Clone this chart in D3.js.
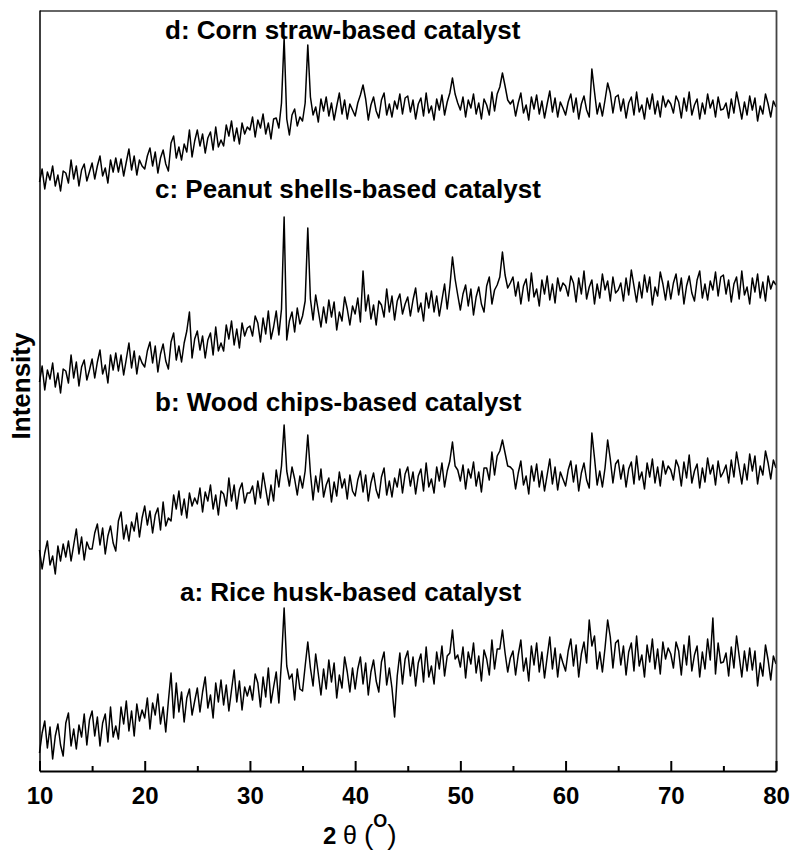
<!DOCTYPE html>
<html>
<head>
<meta charset="utf-8">
<script src="https://cdn.jsdelivr.net/npm/d3@7"></script>
<style>
  body { margin: 0; background: #fff; }
  text { font-family: "Liberation Sans", Arial, sans-serif; }
</style>
</head>
<body>
<svg id="xrd"></svg>
<script>
// XRD patterns of the four biomass-based catalysts (stacked, intensity in a.u.)
// scan 10-80 deg, 0.25 deg step
const twoTheta = d3.range(10, 80.001, 0.25);

const riceHusk = [
  18, 38, 50, 23, 44, 12, 35, 47, 26, 15, 48, 58, 25, 42, 22, 46, 34, 57, 26, 51,
  60, 35, 54, 25, 48, 57, 29, 64, 34, 45, 32, 64, 47, 70, 40, 60, 35, 67, 50, 61,
  53, 73, 42, 68, 56, 77, 47, 64, 39, 70, 98, 53, 88, 59, 79, 49, 73, 82, 56, 70,
  83, 59, 79, 94, 63, 76, 53, 88, 69, 91, 66, 86, 60, 81, 101, 69, 90, 61, 84, 75,
  85, 71, 97, 88, 64, 94, 74, 103, 68, 84, 99, 68, 110, 163, 105, 92, 97, 71, 102, 82,
  80, 105, 129, 103, 85, 117, 97, 76, 102, 82, 111, 89, 108, 73, 96, 83, 114, 99, 79, 103,
  82, 102, 114, 87, 108, 76, 99, 111, 90, 79, 109, 119, 86, 103, 83, 54, 95, 118, 87, 112,
  120, 95, 114, 85, 108, 117, 89, 124, 94, 105, 87, 119, 102, 125, 95, 115, 118, 141, 112, 116,
  104, 124, 93, 119, 107, 128, 98, 115, 90, 121, 112, 96, 131, 102, 122, 122, 141, 118, 99, 113,
  120, 96, 116, 131, 100, 113, 90, 125, 106, 128, 99, 119, 93, 114, 134, 102, 123, 94, 117, 108,
  100, 120, 132, 105, 126, 94, 117, 129, 108, 151, 125, 135, 102, 119, 99, 123, 151, 134, 103, 128,
  131, 106, 125, 96, 119, 128, 100, 135, 105, 116, 94, 126, 109, 132, 102, 122, 97, 129, 112, 123,
  117, 103, 129, 120, 96, 126, 106, 135, 100, 116, 125, 94, 119, 102, 132, 111, 153, 97, 128, 108,
  109, 118, 95, 124, 103, 135, 115, 94, 120, 100, 123, 101, 120, 85, 108, 95, 126, 111, 91, 115,
  107
];

const woodChips = [
  221, 202, 218, 230, 206, 215, 197, 225, 210, 227, 214, 230, 210, 226, 242, 217, 234, 211, 229, 222,
  222, 238, 247, 226, 243, 217, 235, 245, 228, 220, 250, 259, 232, 246, 230, 249, 240, 258, 234, 253,
  265, 246, 260, 238, 256, 263, 241, 269, 245, 253, 250, 276, 262, 280, 256, 272, 253, 278, 265, 273,
  267, 283, 259, 279, 270, 286, 262, 276, 256, 280, 277, 265, 293, 270, 286, 262, 281, 288, 268, 278,
  278, 285, 267, 290, 273, 298, 282, 266, 286, 270, 301, 284, 305, 346, 300, 285, 304, 292, 276, 295,
  283, 300, 336, 298, 271, 295, 279, 302, 274, 286, 293, 269, 289, 275, 299, 283, 292, 272, 296, 280,
  275, 291, 300, 279, 296, 270, 288, 298, 281, 273, 294, 303, 276, 290, 274, 293, 284, 302, 278, 297,
  304, 285, 299, 277, 295, 302, 280, 308, 284, 292, 278, 304, 290, 308, 284, 300, 310, 329, 305, 301,
  290, 306, 282, 302, 293, 309, 285, 299, 279, 303, 303, 291, 319, 296, 315, 320, 331, 318, 305, 304,
  301, 282, 298, 310, 286, 295, 277, 305, 290, 307, 284, 300, 280, 296, 312, 287, 304, 281, 299, 292,
  285, 301, 310, 289, 306, 280, 298, 308, 291, 283, 338, 313, 286, 300, 284, 303, 331, 312, 288, 307,
  311, 292, 306, 284, 302, 309, 287, 315, 291, 299, 282, 308, 294, 312, 288, 304, 285, 310, 297, 305,
  301, 291, 311, 304, 285, 309, 293, 316, 288, 300, 307, 283, 303, 289, 313, 297, 306, 286, 310, 294,
  299, 306, 288, 311, 294, 319, 303, 287, 307, 291, 317, 300, 315, 287, 305, 296, 320, 308, 292, 311,
  303
];

const peanutShells = [
  389, 405, 381, 401, 392, 408, 384, 398, 378, 402, 400, 388, 416, 393, 409, 385, 404, 411, 391, 401,
  412, 393, 409, 421, 397, 406, 388, 416, 401, 418, 400, 416, 396, 412, 428, 403, 420, 397, 415, 408,
  404, 420, 429, 408, 425, 399, 417, 427, 410, 402, 429, 438, 411, 425, 409, 428, 440, 459, 413, 432,
  440, 421, 435, 413, 431, 438, 416, 444, 420, 428, 420, 446, 432, 450, 426, 442, 423, 448, 435, 443,
  445, 435, 455, 448, 429, 453, 437, 460, 432, 444, 460, 436, 462, 554, 431, 450, 459, 439, 463, 447,
  455, 470, 543, 472, 451, 476, 460, 444, 464, 448, 471, 454, 469, 441, 459, 450, 474, 462, 446, 465,
  457, 473, 449, 500, 460, 476, 452, 466, 446, 470, 466, 454, 482, 459, 475, 451, 470, 477, 457, 467,
  474, 455, 471, 483, 459, 468, 450, 478, 463, 480, 459, 475, 455, 471, 487, 462, 484, 514, 492, 476,
  461, 477, 486, 465, 482, 456, 474, 484, 467, 459, 485, 494, 467, 481, 486, 494, 519, 496, 483, 488,
  494, 475, 489, 467, 485, 492, 470, 498, 474, 482, 465, 491, 477, 495, 471, 487, 468, 493, 480, 488,
  485, 475, 495, 488, 469, 493, 477, 500, 472, 484, 491, 467, 487, 473, 497, 481, 490, 470, 494, 478,
  481, 488, 470, 493, 476, 501, 485, 469, 489, 473, 496, 479, 494, 466, 484, 475, 499, 487, 471, 490,
  472, 488, 497, 476, 493, 467, 485, 495, 478, 470, 491, 500, 473, 487, 471, 490, 481, 499, 475, 494,
  496, 477, 491, 469, 487, 494, 472, 500, 476, 484, 467, 493, 479, 497, 473, 489, 470, 495, 482, 490,
  486
];

const cornStraw = [
  589, 602, 582, 599, 591, 605, 585, 596, 580, 600, 598, 588, 611, 592, 605, 585, 601, 607, 590, 599,
  608, 592, 605, 615, 595, 603, 588, 611, 599, 613, 599, 612, 595, 609, 622, 601, 615, 596, 611, 605,
  602, 615, 623, 605, 619, 598, 613, 621, 607, 600, 628, 635, 613, 624, 611, 627, 619, 641, 614, 630,
  641, 625, 637, 618, 633, 639, 621, 644, 624, 631, 625, 646, 635, 650, 630, 643, 627, 648, 637, 644,
  641, 654, 634, 651, 643, 657, 637, 648, 632, 652, 653, 643, 668, 733, 652, 636, 656, 662, 645, 654,
  650, 668, 726, 674, 656, 664, 649, 672, 660, 674, 655, 668, 651, 665, 678, 657, 671, 652, 667, 661,
  655, 668, 676, 686, 672, 651, 666, 674, 660, 653, 671, 678, 656, 667, 654, 670, 662, 677, 657, 673,
  675, 659, 671, 652, 667, 673, 655, 678, 658, 665, 651, 672, 661, 676, 656, 669, 678, 693, 677, 668,
  661, 674, 654, 671, 663, 677, 657, 668, 652, 672, 666, 656, 679, 660, 677, 684, 698, 685, 671, 667,
  671, 655, 668, 678, 658, 666, 651, 674, 662, 676, 657, 670, 653, 667, 680, 659, 673, 654, 669, 663,
  656, 669, 677, 659, 673, 652, 667, 675, 661, 654, 702, 679, 657, 668, 655, 671, 688, 678, 658, 674,
  676, 660, 672, 653, 668, 674, 656, 679, 659, 666, 652, 673, 662, 677, 657, 670, 654, 675, 664, 671,
  667, 658, 675, 669, 653, 673, 660, 679, 656, 666, 672, 652, 668, 657, 677, 663, 671, 654, 674, 661,
  662, 668, 653, 672, 658, 679, 666, 652, 669, 656, 675, 661, 673, 650, 665, 657, 677, 667, 654, 670,
  664
];

const seriesLabels = ["a: Rice husk-based catalyst", "b: Wood chips-based catalyst",
                      "c: Peanut shells-based catalyst", "d: Corn straw-based catalyst"];
const majorTicks = [10, 20, 30, 40, 50, 60, 70, 80];
const minorTicks = [15, 25, 35, 45, 55, 65, 75];

function drawChart() {
    const width = 790, height = 852;
    const left = 39.5, right = 776, top = 10, bottom = 771;

    const svg = d3.select("#xrd")
                  .attr("width", width)
                  .attr("height", height);

    const x = d3.scaleLinear().domain([10, 80]).range([left, right]);
    const y = d3.scaleLinear().domain([0, bottom - top]).range([bottom, top]);

    const series = [riceHusk, woodChips, peanutShells, cornStraw];

    const line = d3.line()
                   .x((d, i) => x(twoTheta[i]))
                   .y(d => y(d));

    svg.append("g")
       .selectAll("path")
       .data(series)
       .enter().append("path")
       .attr("d", line)
       .attr("fill", "none")
       .attr("stroke", "#000")
       .attr("stroke-width", 1.5)
       .attr("stroke-linejoin", "round");

    // label anchors (px): left edge and baseline for a, b, c, d
    const labelPos = [[180, 601], [155, 411], [155, 198], [165, 39]];
    svg.append("g")
       .selectAll("text")
       .data(seriesLabels)
       .enter().append("text")
       .attr("x", (d, i) => labelPos[i][0])
       .attr("y", (d, i) => labelPos[i][1])
       .attr("font-size", 26)
       .attr("font-weight", "bold")
       .text(d => d);

    // frame
    svg.append("g")
       .attr("transform", `translate(0,${top + 0.5})`)
       .call(d3.axisTop(x).tickValues([]).tickSizeOuter(0))
       .select(".domain").attr("stroke", "#333").attr("stroke-width", 1.3);

    svg.append("g")
       .attr("transform", `translate(${right},0)`)
       .call(d3.axisRight(y).tickValues([]).tickSizeOuter(0))
       .select(".domain").attr("stroke", "#444").attr("stroke-width", 1.8);

    svg.append("g")
       .attr("transform", `translate(${left},0)`)
       .call(d3.axisLeft(y).tickValues([]).tickSizeOuter(0))
       .select(".domain").attr("stroke", "#000").attr("stroke-width", 1.5);

    // bottom axis, ticks pointing inward
    const xAxis = svg.append("g")
       .attr("transform", `translate(0,${bottom})`)
       .call(d3.axisBottom(x).tickValues(majorTicks).tickSize(-10).tickSizeOuter(0).tickPadding(16));
    xAxis.select(".domain").attr("stroke-width", 2.2);
    xAxis.selectAll(".tick line").attr("stroke-width", 2);
    xAxis.selectAll(".tick text")
         .attr("font-size", 24)
         .attr("font-weight", "bold")
         .attr("font-family", "Liberation Sans, Arial, sans-serif")
         .attr("fill", "#000");

    svg.append("g")
       .attr("transform", `translate(0,${bottom})`)
       .call(d3.axisBottom(x).tickValues(minorTicks).tickSize(-5).tickFormat(""))
       .call(g => g.select(".domain").remove())
       .selectAll(".tick line").attr("stroke-width", 2);

    // axis titles
    const xt = svg.append("text")
       .attr("x", 323)
       .attr("y", 844)
       .attr("font-size", 24);
    xt.append("tspan").attr("font-weight", "bold").text("2 ");
    xt.append("tspan").attr("font-size", 25).text("\u03b8 ");
    xt.append("tspan").attr("font-size", 28).text("(");
    xt.append("tspan").attr("font-weight", "bold").attr("font-size", 18).attr("dy", -17).text("O");
    xt.append("tspan").attr("font-size", 28).attr("dy", 17).text(")");

    svg.append("text")
       .attr("transform", "translate(30,386) rotate(-90)")
       .attr("text-anchor", "middle")
       .attr("font-size", 26)
       .attr("font-weight", "bold")
       .text("Intensity");
}

drawChart();
</script>
</body>
</html>
